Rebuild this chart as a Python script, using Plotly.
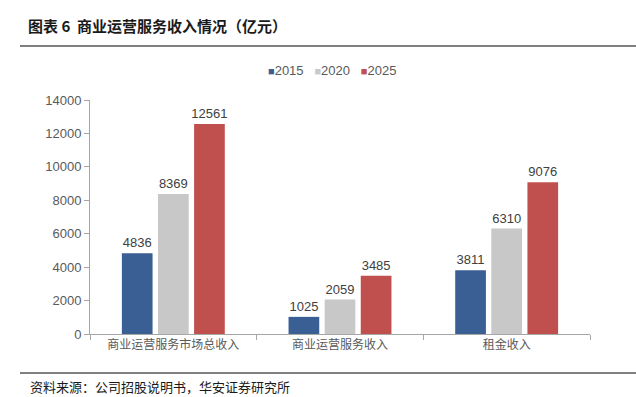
import plotly.graph_objects as go

categories = ["商业运营服务市场总收入", "商业运营服务收入", "租金收入"]
years = ["2015", "2020", "2025"]
v2015 = [4836, 1025, 3811]
v2020 = [8369, 2059, 6310]
v2025 = [12561, 3485, 9076]
colors = ["#3A5F94", "#C8C8C8", "#C0504D"]

fig = go.Figure()
for name, vals, c in zip(years, [v2015, v2020, v2025], colors):
    fig.add_trace(go.Bar(
        x=categories, y=vals, name=name, marker=dict(color=c, line=dict(width=0)),
        text=[str(v) for v in vals], textposition="outside", constraintext="none",
        textfont=dict(size=13, color="#404040", family="Arial"), cliponaxis=False,
        showlegend=False,
    ))

# plot area: x 90-590 px, y 100-334 px
def px(x):
    return (x - 90) / 500

def py(y):
    return (334 - y) / 234

fig.update_layout(
    width=636, height=397,
    margin=dict(l=90, r=46, t=100, b=63),
    paper_bgcolor="white", plot_bgcolor="white",
    barmode="group", bargap=0.35, bargroupgap=0.15,
    font=dict(family="Noto Sans CJK SC", color="#595959"),
    xaxis=dict(showline=True, linecolor="#A6A6A6", linewidth=1, ticks="outside",
               tickson="boundaries", tickcolor="#A6A6A6", ticklen=5,
               tickfont=dict(size=12, color="#595959", family="Noto Sans CJK SC")),
    yaxis=dict(range=[0, 14000], dtick=2000, tickformat="d", showgrid=False, showline=True,
               linecolor="#A6A6A6", linewidth=1, ticks="outside", tickcolor="#A6A6A6",
               ticklen=5, zeroline=False,
               tickfont=dict(size=13, color="#595959", family="Arial")),
)

# legend as text (compact, like the reference)
legend_txt = "&nbsp;&nbsp;&nbsp;".join(
    f'<span style="color:{c};font-size:11px">■</span>{y}' for y, c in zip(years, colors))
fig.add_annotation(text=legend_txt, xref="paper", yref="paper", x=px(332), y=py(70),
                   xanchor="center", yanchor="middle", showarrow=False,
                   font=dict(size=13, color="#595959", family="Arial"))

fig.add_annotation(text="<b>图表 6  商业运营服务收入情况（亿元）</b>", xref="paper", yref="paper",
                   x=px(26), y=py(25), xanchor="left", yanchor="middle", showarrow=False,
                   font=dict(size=15, color="#1a1a1a", family="Noto Sans CJK SC"))
fig.add_shape(type="line", xref="paper", yref="paper", x0=px(20), x1=px(636), y0=py(46), y1=py(46),
              line=dict(color="#808080", width=2))
fig.add_shape(type="line", xref="paper", yref="paper", x0=px(20), x1=px(636), y0=py(373), y1=py(373),
              line=dict(color="#808080", width=2))
fig.add_annotation(text="资料来源：公司招股说明书，华安证券研究所", xref="paper", yref="paper",
                   x=px(28), y=py(386), xanchor="left", yanchor="middle", showarrow=False,
                   font=dict(size=13, color="#1a1a1a", family="Noto Sans CJK SC"))

fig.write_html("out.html", config={"displayModeBar": False},
               post_script="document.body.style.margin='0';document.body.style.overflow='hidden';")
